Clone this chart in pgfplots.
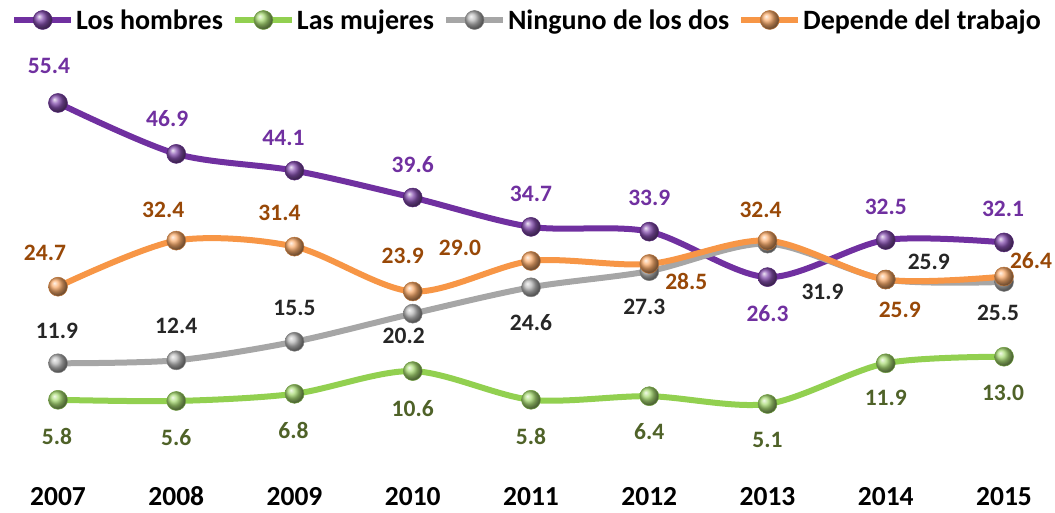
\documentclass[border=0pt]{standalone}
\usepackage{fontspec}
\setmainfont{Carlito}
\usepackage{pgfplots}
\pgfplotsset{compat=1.18}
\definecolor{cPur}{HTML}{7030A0}
\definecolor{cGrn}{HTML}{92D050}
\definecolor{cGry}{HTML}{A6A6A6}
\definecolor{cOrg}{HTML}{F79646}
\definecolor{lPur}{HTML}{7030A0}
\definecolor{lGrn}{HTML}{4F6228}
\definecolor{lGry}{HTML}{262626}
\definecolor{lOrg}{HTML}{984807}
\newcommand\lbfont{\fontsize{23.5}{26}\selectfont\bfseries}
\newcommand\lab[6]{\node[text=#5, font=\lbfont, inner sep=0pt] at (axis cs:#1,#2) [xshift=#3pt, yshift=#4pt] {#6};}
\begin{document}
\begin{tikzpicture}
\begin{axis}[
  scale only axis, width=946pt, height=331.5pt,
  xmin=2007, xmax=2015, ymin=0, ymax=55.4,
  clip=false,
  axis line style={draw=none},
  ytick=\empty,
  xtick={2007,2008,2009,2010,2011,2012,2013,2014,2015},
  xticklabels={2007,2008,2009,2010,2011,2012,2013,2014,2015},
  major tick length=0pt,
  xticklabel style={font=\fontsize{27.5}{30}\selectfont\bfseries, anchor=center, yshift=-62pt, inner sep=0pt},
  every axis plot/.append style={line width=6pt, smooth, mark=ball, mark size=9.5pt},
  legend columns=4,
  legend style={at={(0.4947,1.2504)}, anchor=center, draw=none, fill=none, inner sep=0pt,
    font=\fontsize{28}{30}\selectfont\bfseries,
    nodes={inner sep=0pt},
    /tikz/every odd column/.append style={column sep=2pt},
    /tikz/every even column/.append style={column sep=9pt}},
  legend image code/.code={\draw[mark repeat=2,mark phase=2,#1] plot coordinates {(0pt,0pt) (28.5pt,0pt) (57pt,0pt)};},
]
\addplot[color=cPur, mark options={ball color=cPur!85!white, line width=0.5pt, draw=cPur!75!black}] coordinates {(2007,55.4) (2008,46.9) (2009,44.1) (2010,39.6) (2011,34.7) (2012,33.9) (2013,26.3) (2014,32.5) (2015,32.1)};
\addlegendentry{Los hombres}
\addplot[color=cGrn, mark options={ball color=cGrn!80!white, line width=0.5pt, draw=cGrn!75!black}] coordinates {(2007,5.8) (2008,5.6) (2009,6.8) (2010,10.6) (2011,5.8) (2012,6.4) (2013,5.1) (2014,11.9) (2015,13.0)};
\addlegendentry{Las mujeres}
\addplot[color=cGry, mark options={ball color=cGry!80!white, line width=0.5pt, draw=cGry!75!black}] coordinates {(2007,11.9) (2008,12.4) (2009,15.5) (2010,20.2) (2011,24.6) (2012,27.3) (2013,31.9) (2014,25.9) (2015,25.5)};
\addlegendentry{Ninguno de los dos}
\addplot[color=cOrg, mark options={ball color=cOrg!80!white, line width=0.5pt, draw=cOrg!75!black}] coordinates {(2007,24.7) (2008,32.4) (2009,31.4) (2010,23.9) (2011,29.0) (2012,28.5) (2013,32.4) (2014,25.9) (2015,26.4)};
\addlegendentry{Depende del trabajo}
% Los hombres
\lab{2007}{55.4}{-9}{37}{lPur}{55.4}
\lab{2008}{46.9}{-9}{35}{lPur}{46.9}
\lab{2009}{44.1}{-11}{33}{lPur}{44.1}
\lab{2010}{39.6}{0}{33}{lPur}{39.6}
\lab{2011}{34.7}{0}{33}{lPur}{34.7}
\lab{2012}{33.9}{0}{34}{lPur}{33.9}
\lab{2013}{26.3}{0}{-36}{lPur}{26.3}
\lab{2014}{32.5}{0}{33}{lPur}{32.5}
\lab{2015}{32.1}{-1}{34}{lPur}{32.1}
% Las mujeres
\lab{2007}{5.8}{-1}{-37}{lGrn}{5.8}
\lab{2008}{5.6}{0}{-37}{lGrn}{5.6}
\lab{2009}{6.8}{-1}{-37}{lGrn}{6.8}
\lab{2010}{10.6}{0}{-37}{lGrn}{10.6}
\lab{2011}{5.8}{0}{-37}{lGrn}{5.8}
\lab{2012}{6.4}{0}{-35}{lGrn}{6.4}
\lab{2013}{5.1}{0}{-36}{lGrn}{5.1}
\lab{2014}{11.9}{0}{-35}{lGrn}{11.9}
\lab{2015}{13.0}{-1}{-36}{lGrn}{13.0}
% Ninguno
\lab{2007}{11.9}{-1}{32}{lGry}{11.9}
\lab{2008}{12.4}{0}{34}{lGry}{12.4}
\lab{2009}{15.5}{0}{34}{lGry}{15.5}
\lab{2010}{20.2}{-9}{-22}{lGry}{20.2}
\lab{2011}{24.6}{0}{-35}{lGry}{24.6}
\lab{2012}{27.3}{-5}{-36}{lGry}{27.3}
\lab{2013}{31.9}{55}{-48}{lGry}{31.9}
\lab{2014}{25.9}{43}{18}{lGry}{25.9}
\lab{2015}{25.5}{-6}{-31}{lGry}{25.5}
% Depende
\lab{2007}{24.7}{-13}{34}{lOrg}{24.7}
\lab{2008}{32.4}{-13}{31}{lOrg}{32.4}
\lab{2009}{31.4}{-15}{34}{lOrg}{31.4}
\lab{2010}{23.9}{-10}{36}{lOrg}{23.9}
\lab{2011}{29.0}{-71}{13}{lOrg}{29.0}
\lab{2012}{28.5}{37}{-18}{lOrg}{28.5}
\lab{2013}{32.4}{-7}{31}{lOrg}{32.4}
\lab{2014}{25.9}{14}{-30}{lOrg}{25.9}
\lab{2015}{26.4}{27}{16}{lOrg}{26.4}
\path (rel axis cs:-0.06131,-0.2368) rectangle (rel axis cs:1.05391,1.3107);
\end{axis}
\end{tikzpicture}
\end{document}
